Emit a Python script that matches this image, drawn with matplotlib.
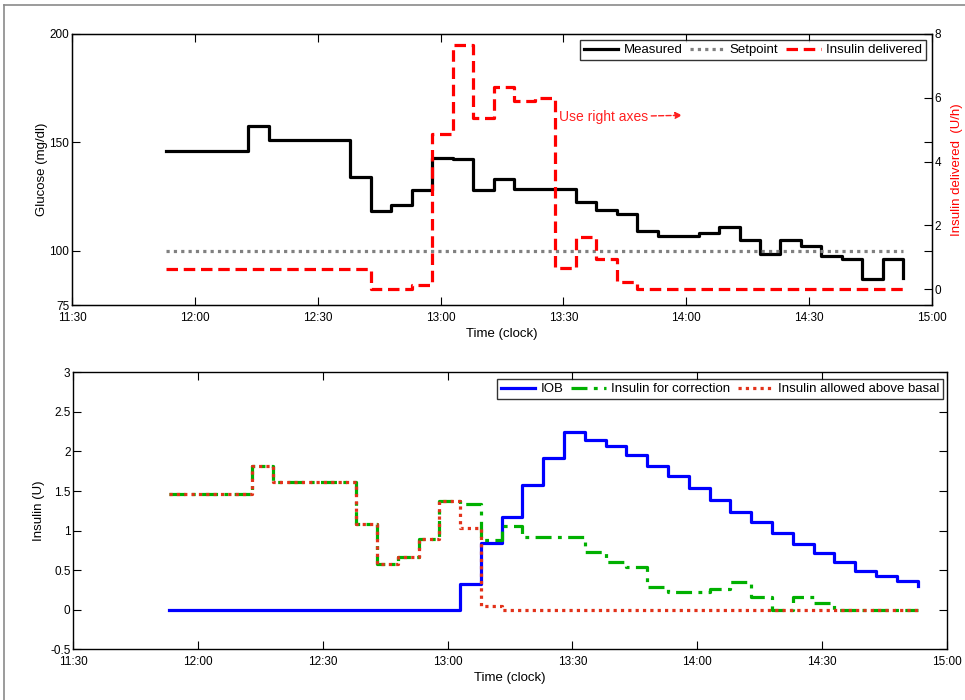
import matplotlib
matplotlib.use("Agg")
import matplotlib.pyplot as plt
from matplotlib.lines import Line2D

plt.rcParams['font.family'] = ['Liberation Sans Narrow', 'Liberation Sans', 'DejaVu Sans']

# ---------------- data ----------------
times = ["11:53", "11:58", "12:03", "12:08", "12:13", "12:18", "12:23", "12:28",
         "12:33", "12:38", "12:43", "12:48", "12:53", "12:58", "13:03", "13:08",
         "13:13", "13:18", "13:23", "13:28", "13:33", "13:38", "13:43", "13:48",
         "13:53", "13:58", "14:03", "14:08", "14:13", "14:18", "14:23", "14:28",
         "14:33", "14:38", "14:43", "14:48", "14:53"]

glucose = [146.0, 146.0, 146.0, 146.0, 157.7, 151.2, 151.2, 151.2, 151.2, 134.0,
           118.3, 120.9, 128.1, 143.0, 142.4, 128.0, 133.1, 128.7, 128.7, 128.7,
           122.3, 118.7, 117.2, 109.0, 106.6, 106.6, 108.3, 110.9, 105.0, 98.6,
           104.9, 102.1, 97.8, 96.1, 86.9, 96.1, 87.3]

setpoint = [100] * len(times)

insulin_delivered = [0.64, 0.64, 0.64, 0.64, 0.64, 0.64, 0.64, 0.64, 0.64, 0.64,
                     0.0, 0.0, 0.13, 4.87, 7.64, 5.36, 6.33, 5.91, 5.99, 0.65,
                     1.62, 0.93, 0.21, 0.0, 0.0, 0.0, 0.0, 0.0, 0.0, 0.0,
                     0.0, 0.0, 0.0, 0.0, 0.0, 0.0, 0.0]

iob = [0, 0, 0, 0, 0, 0, 0, 0, 0, 0, 0, 0, 0, 0, 0.32, 0.84, 1.17, 1.58, 1.92, 2.24,
       2.15, 2.07, 1.96, 1.82, 1.69, 1.54, 1.39, 1.24, 1.11, 0.97, 0.83, 0.72,
       0.60, 0.49, 0.42, 0.36, 0.30]

insulin_correction = [1.46, 1.46, 1.46, 1.46, 1.81, 1.61, 1.61, 1.61, 1.61, 1.08,
                      0.58, 0.66, 0.89, 1.37, 1.33, 0.88, 1.06, 0.92, 0.92, 0.92,
                      0.73, 0.60, 0.54, 0.29, 0.23, 0.23, 0.26, 0.35, 0.16, 0.0,
                      0.16, 0.08, 0.0, 0.0, 0.0, 0.0, 0.0]

insulin_allowed = [1.46, 1.46, 1.46, 1.46, 1.81, 1.61, 1.61, 1.61, 1.61, 1.08,
                   0.58, 0.66, 0.89, 1.37, 1.03, 0.05, 0.0, 0.0, 0.0, 0.0,
                   0.0, 0.0, 0.0, 0.0, 0.0, 0.0, 0.0, 0.0, 0.0, 0.0,
                   0.0, 0.0, 0.0, 0.0, 0.0, 0.0, 0.0]

xtick_labels = ["11:30", "12:00", "12:30", "13:00", "13:30", "14:00", "14:30", "15:00"]
glucose_ticks = [75, 100, 150, 200]
insulin_rate_ticks = [0, 2, 4, 6, 8]
insulin_ticks = [-0.5, 0, 0.5, 1, 1.5, 2, 2.5, 3]
insulin_tick_labels = ["-0.5", "0", "0.5", "1", "1.5", "2", "2.5", "3"]


def to_hours(s):
    h, m = s.split(":")
    return int(h) + int(m) / 60.0


t = [to_hours(s) for s in times]
xt = [to_hours(s) for s in xtick_labels]

# ---------------- figure ----------------
fig = plt.figure(figsize=(9.65, 7.0), dpi=100)

# thin grey frame (top and left edges)
fig.add_artist(Line2D([4 / 965, 1.0], [1 - 5 / 700, 1 - 5 / 700], color='#8a8a8a', lw=1.2,
                      transform=fig.transFigure))
fig.add_artist(Line2D([4 / 965, 4 / 965], [0.0, 1 - 5 / 700], color='#8a8a8a', lw=1.2,
                      transform=fig.transFigure))

TICK_FS = 8.5
LAB_FS = 9.5
LW = 2.3

def style_axes(ax):
    ax.tick_params(direction='in', length=6, width=0.8, labelsize=TICK_FS,
                   top=True, right=True, pad=2)
    ax.tick_params(axis='x', pad=5)
    for sp in ax.spines.values():
        sp.set_linewidth(1.0)
        sp.set_color('black')

# ---- top axes ----
ax1 = fig.add_axes([72 / 965, 1 - 305 / 700, (932 - 72) / 965, (305 - 34) / 700])
l1, = ax1.step(t, glucose, where='post', color='black', lw=LW, label='Measured')
l2, = ax1.plot(t, setpoint, color='#808080', lw=LW, ls=(0, (1, 1.3)), label='Setpoint')
ax1.set_xlim(xt[0], xt[-1])
ax1.set_ylim(75, 200)
ax1.set_yticks(glucose_ticks)
ax1.set_xticks(xt)
ax1.set_xticklabels(xtick_labels)
style_axes(ax1)
ax1.set_ylabel('Glucose (mg/dl)', fontsize=LAB_FS, labelpad=1)
ax1.set_xlabel('Time (clock)', fontsize=LAB_FS, labelpad=3)

ax1r = ax1.twinx()
l3, = ax1r.step(t, insulin_delivered, where='post', color='#ff0000', lw=LW,
                ls=(0, (3.6, 1.8)), label='Insulin delivered')
ax1r.set_ylim(-0.5, 8)
ax1r.set_yticks(insulin_rate_ticks)
ax1r.tick_params(direction='in', length=6, width=0.8, labelsize=TICK_FS, pad=2)
ax1r.set_ylabel('Insulin delivered  (U/h)', fontsize=LAB_FS, color='#ff0000', labelpad=7)
ax1.tick_params(right=True, labelright=False)

ax1r.annotate('Use right axes', xy=(to_hours("13:59"), 5.45),
              xytext=(to_hours("13:29"), 5.4), color='#ff2020', fontsize=10,
              va='center', ha='left',
              arrowprops=dict(arrowstyle='-|>', color='#ff2020', lw=1.0, ls='--',
                              mutation_scale=10, shrinkA=0, shrinkB=0))

leg1 = ax1r.legend(handles=[l1, l2, l3], ncol=3, loc='upper right',
                   bbox_to_anchor=(926 / 965, 1 - 40 / 700), bbox_transform=fig.transFigure,
                   fontsize=9.5, frameon=True, fancybox=False, handlelength=2.6,
                   handletextpad=0.4, columnspacing=0.6, borderpad=0.3, borderaxespad=0)
leg1.get_frame().set_edgecolor('black')
leg1.get_frame().set_linewidth(1.0)

# ---- bottom axes ----
ax2 = fig.add_axes([73.3 / 965, 1 - 649.3 / 700, (946.7 - 73.3) / 965, (649.3 - 372.3) / 700])
b1, = ax2.step(t, iob, where='post', color='#0000ff', lw=LW, label='IOB')
b2, = ax2.step(t, insulin_correction, where='post', color='#00b000', lw=LW,
               ls=(0, (5, 2, 1.2, 2)), label='Insulin for correction')
b3, = ax2.step(t, insulin_allowed, where='post', color='#e2321a', lw=LW,
               ls=(0, (1, 1.3)), label='Insulin allowed above basal')
ax2.set_xlim(xt[0], xt[-1])
ax2.set_ylim(-0.5, 3)
ax2.set_yticks(insulin_ticks)
ax2.set_yticklabels(insulin_tick_labels)
ax2.set_xticks(xt)
ax2.set_xticklabels(xtick_labels)
style_axes(ax2)
ax2.set_ylabel('Insulin (U)', fontsize=LAB_FS, labelpad=4)
ax2.set_xlabel('Time (clock)', fontsize=LAB_FS, labelpad=3)

leg2 = ax2.legend(handles=[b1, b2, b3], ncol=3, loc='upper right',
                  bbox_to_anchor=(943 / 965, 1 - 379 / 700), bbox_transform=fig.transFigure,
                  fontsize=9.5, frameon=True, fancybox=False, handlelength=2.6,
                  handletextpad=0.4, columnspacing=0.6, borderpad=0.3, borderaxespad=0)
leg2.get_frame().set_edgecolor('black')
leg2.get_frame().set_linewidth(1.0)

fig.savefig('out.png', dpi=100)
